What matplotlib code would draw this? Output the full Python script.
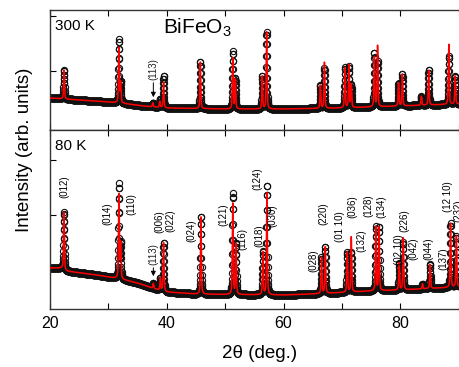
import numpy as np
import matplotlib
matplotlib.use("Agg")
import matplotlib.pyplot as plt

plt.rcParams['font.family'] = ['Liberation Sans', 'DejaVu Sans']
plt.rcParams['mathtext.default'] = 'regular'

# background knots (2theta, intensity)
bg300_x = [20, 25, 30, 32, 36, 40, 50, 60, 70, 80, 90]
bg300_y = [32, 30, 28, 27, 24, 22, 21, 21, 22, 24, 26]
bg80_x = [20, 22.3, 22.6, 24, 28, 30, 32, 35, 38, 40, 45, 50, 60, 65, 70, 75, 80, 85, 90]
bg80_y = [41, 41, 38, 37, 34, 32, 30, 26, 20, 17, 15, 14.5, 14, 15, 16.5, 18, 19, 20.5, 22]

# peak positions and heights above background, 300 K
pk300_pos  = [22.4, 31.8, 32.1, 37.6, 38.8, 39.45, 45.75, 51.3, 51.75, 56.35, 57.1,
              66.3, 67.0, 70.5, 71.2, 71.6, 75.55, 76.1, 79.7, 80.35, 83.6, 84.85, 88.3, 89.4]
pk300_calc = [29, 55, 20, 4, 6, 26, 47, 51, 30, 33, 77,
              23, 46, 40, 43, 23, 50, 61, 23, 32, 9, 35, 60, 28]
pk300_obs  = [29, 63, 20, 4, 8, 32, 47, 57, 30, 33, 77,
              23, 40, 40, 41, 23, 54, 45, 23, 32, 9, 35, 48, 28]

# peak positions and heights above background, 80 K
pk80_pos  = [22.4, 31.8, 32.1, 37.7, 38.9, 39.45, 45.85, 51.3, 51.85, 56.45, 57.15,
             66.5, 67.15, 70.9, 71.6, 75.8, 76.35, 79.8, 80.5, 83.8, 85.1, 88.6, 89.6]
pk80_calc = [57, 84, 35, 5, 12, 49, 78, 91, 51, 43, 103,
             36, 47, 40, 55, 64, 64, 27, 52, 5, 24, 64, 51]
pk80_obs  = [57, 94, 35, 5, 12, 49, 78, 101, 51, 43, 110,
             36, 47, 40, 40, 64, 64, 27, 48, 5, 24, 64, 51]

# Miller index labels at 80 K: text, 2theta, bottom of label
hkl_text = ['(012)', '(014)', '(110)', '(006)', '(022)', '(024)', '(121)', '(116)', '(124)',
            '(018)', '(030)', '(028)', '(220)', '(01 10)', '(036)', '(132)', '(128)', '(134)',
            '(02 10)', '(226)', '(042)', '(044)', '(137)', '(12 10)', '(232)']
hkl_x = [22.4, 29.9, 33.9, 38.7, 40.7, 44.2, 49.7, 52.9, 55.5,
         55.8, 58.1, 65.1, 66.8, 69.7, 71.8, 73.3, 74.5, 76.7,
         79.7, 80.7, 82.2, 84.8, 87.4, 88.1, 89.9]
hkl_y = [111, 84, 94, 76, 77, 67, 83, 59, 119,
         62, 82, 37, 84, 67, 91, 57, 92, 91,
         44, 77, 49, 49, 39, 97, 87]

tt = np.arange(20, 90.5, 0.02)


def profile(pos, hts, bx, by, fwhm=0.17, eta=0.5):
    y = np.interp(tt, bx, by)
    for p, h in zip(pos, hts):
        d = (tt - p) / (fwhm / 2)
        y = y + h * (eta / (1 + d**2) + (1 - eta) * np.exp(-np.log(2) * d**2))
    return y


fig = plt.figure(figsize=(4.59, 3.67), dpi=100)
W, H = 459, 367
ax1 = fig.add_axes([50 / W, 1 - 130 / H, 409 / W, 120 / H])
ax2 = fig.add_axes([50 / W, 1 - 309 / H, 409 / W, 179 / H])

panels = [(ax1, pk300_pos, pk300_calc, pk300_obs, bg300_x, bg300_y, 120, '300 K'),
          (ax2, pk80_pos, pk80_calc, pk80_obs, bg80_x, bg80_y, 179, '80 K')]

for ax, pos, hc, ho, bx, by, top, lab in panels:
    yo = profile(pos, ho, bx, by)
    yc = profile(pos, hc, bx, by)
    ax.plot(tt, yo, 'o', ms=4.5, mfc='none', mec='#111111', mew=0.8, zorder=2)
    ax.plot(tt, yc, '-', color='red', lw=1.1, zorder=3)
    ax.set_xlim(20, 90.05)
    ax.set_ylim(0, top)
    ax.set_xticks([20, 40, 60, 80])
    ax.set_xticks([30, 50, 70, 90], minor=True)
    ax.tick_params(which='both', direction='in', top=True, length=4, width=0.8,
                   labelsize=11.5, pad=5)
    ax.set_yticklabels([])
    ax.spines['right'].set_visible(False)
    for s in ['left', 'top', 'bottom']:
        ax.spines[s].set_color('#333333')
        ax.spines[s].set_linewidth(1.0)
    ax.text(0.013, 1 - 16 / top, lab, transform=ax.transAxes, fontsize=11,
            ha='left', va='center')

ax1.set_yticks([59, 114])
ax1.tick_params(labelbottom=False)
ax2.set_yticks([39, 94, 149])

ax1.text(0.276, 0.80, 'BiFeO$_3$', transform=ax1.transAxes, fontsize=15,
         ha='left', va='baseline')

# (113) arrows
ax1.text(37.7, 50, '(113)', rotation=90, fontsize=7, ha='center', va='bottom', color='#222222')
ax1.annotate('', xy=(37.7, 30), xytext=(37.7, 50),
             arrowprops=dict(arrowstyle='-|>', color='black', lw=0.7, mutation_scale=7))
ax2.text(37.7, 44, '(113)', rotation=90, fontsize=7, ha='center', va='bottom', color='#222222')
ax2.annotate('', xy=(37.7, 30), xytext=(37.7, 44),
             arrowprops=dict(arrowstyle='-|>', color='black', lw=0.7, mutation_scale=7))

for t, x, y in zip(hkl_text, hkl_x, hkl_y):
    ax2.text(x, y, t, rotation=90, fontsize=7, ha='center', va='bottom', clip_on=False)

fig.text(260 / W, 1 - 353 / H, '2θ (deg.)', fontsize=13.5, ha='center', va='center')
fig.text(25 / W, 1 - 150 / H, 'Intensity (arb. units)', fontsize=13.5, rotation=90,
         ha='center', va='center')

fig.savefig('out.png', dpi=100)
